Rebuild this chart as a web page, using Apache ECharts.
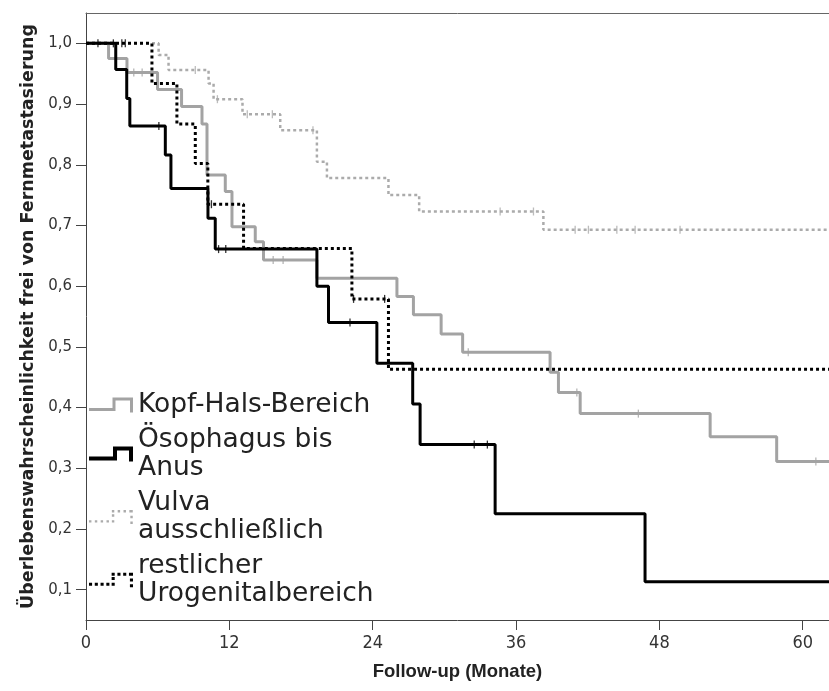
<!DOCTYPE html>
<html><head><meta charset="utf-8">
<script src="https://cdn.jsdelivr.net/npm/echarts@6/dist/echarts.min.js"></script>
<style>html,body{margin:0;padding:0;background:#fff}#c{width:829px;height:691px}</style>
</head><body><div id="c"></div>
<script>
// ---- data ----
const xTicks = [0, 12, 24, 36, 48, 60];
const yTicks = [0.1, 0.2, 0.3, 0.4, 0.5, 0.6, 0.7, 0.8, 0.9, 1.0];
const seriesNames = ['Kopf-Hals-Bereich', 'Ösophagus bis Anus', 'Vulva ausschließlich', 'restlicher Urogenitalbereich'];
const legendLabels = ['Kopf-Hals-Bereich', 'Ösophagus bis\nAnus', 'Vulva\nausschließlich', 'restlicher\nUrogenitalbereich'];

const khTime = [0, 1.89, 3.43, 5.99, 8.0, 9.71, 10.13, 11.66, 12.22, 14.17, 14.86, 19.33, 26.03, 27.41, 29.73, 31.53, 38.85, 39.55, 41.37, 52.25, 57.82, 62.2];
const khSurv = [1, 0.975, 0.952, 0.924, 0.896, 0.867, 0.783, 0.756, 0.698, 0.673, 0.643, 0.613, 0.583, 0.553, 0.521, 0.491, 0.458, 0.425, 0.390, 0.352, 0.311, 0.311];
const khCens = [4.0, 4.7, 15.67, 16.5, 32.0, 41.09, 46.24, 61.1];

const oeTime = [0, 2.49, 3.41, 3.67, 6.64, 7.11, 10.21, 10.82, 19.33, 20.30, 24.35, 27.35, 27.97, 34.25, 46.8, 62.2];
const oeSurv = [1, 0.957, 0.909, 0.864, 0.816, 0.761, 0.712, 0.661, 0.600, 0.540, 0.473, 0.406, 0.339, 0.225, 0.113, 0.113];
const oeCens = [1.0, 6.1, 11.1, 11.7, 22.1, 32.5, 33.6];

const vuTime = [0, 6.08, 6.91, 10.26, 10.68, 13.1, 16.26, 19.33, 20.17, 25.32, 27.89, 38.29, 62.2];
const vuSurv = [1, 0.981, 0.956, 0.934, 0.908, 0.883, 0.857, 0.805, 0.778, 0.750, 0.723, 0.693, 0.693];
const vuCens = [9.15, 11.0, 13.5, 15.6, 19.0, 34.67, 37.46, 40.95, 42.06, 44.44, 45.97, 49.73];

const ugTime = [0, 5.52, 7.61, 9.15, 10.2, 13.19, 22.26, 25.32, 62.2];
const ugSurv = [1, 0.934, 0.867, 0.802, 0.735, 0.662, 0.579, 0.463, 0.463];
const ugCens = [2.29, 3.0, 3.29, 10.5, 22.4, 25.0];

// ---- helpers ----
function zip(t, s) { return t.map((v, i) => [v, s[i]]); }
function stepAt(t, s, x) { let v = s[0]; for (let i = 0; i < t.length; i++) { if (t[i] <= x) v = s[i]; } return v; }
function cens(t, s, c) { return c.map(x => [x, stepAt(t, s, x)]); }

// legend icons (style only)
function solidIcon(th) {
  const W = 44, H = 15;
  return 'path://M0,' + (12 - th / 2) + ' L' + (22 + th / 2) + ',' + (12 - th / 2) + ' L' + (22 + th / 2) + ',0 L' + W + ',0 L' + W + ',' + H +
    ' L' + (W - th) + ',' + H + ' L' + (W - th) + ',' + th + ' L' + (22 + th * 1.5) + ',' + th + ' L' + (22 + th * 1.5) + ',' + (12 + th / 2) + ' L0,' + (12 + th / 2) + ' Z';
}
function dottedIcon(s) {
  const pts = [[0, 12], [23.5, 12], [23.5, 1.5], [42.5, 1.5], [42.5, 15]];
  let p = 'path://';
  const pitch = 6;
  for (let k = 0; k < pts.length - 1; k++) {
    const [x0, y0] = pts[k], [x1, y1] = pts[k + 1];
    const len = Math.hypot(x1 - x0, y1 - y0);
    for (let d = 0; d < len; d += pitch) {
      const x = x0 + (x1 - x0) * d / len, y = y0 + (y1 - y0) * d / len;
      p += 'M' + (x - s / 2) + ',' + (y - s / 2) + ' L' + (x + s / 2) + ',' + (y - s / 2) + ' L' + (x + s / 2) + ',' + (y + s / 2) + ' L' + (x - s / 2) + ',' + (y + s / 2) + ' Z ';
    }
  }
  p += 'M0,0 L0.01,0 Z M44,15 L43.99,15 Z';
  return p;
}

const colKH = '#a3a3a3', colOE = '#000000', colVU = '#ababab', colUG = '#000000';

function lineSeries(name, t, s, color, width, type, z) {
  return { name: name, type: 'line', step: 'end', data: zip(t, s), symbol: 'none', z: z,
    lineStyle: { color: color, width: width, type: type, cap: 'butt' }, itemStyle: { color: color },
    emphasis: { disabled: true }, animation: false, clip: true };
}
function censSeries(name, t, s, c, color, z) {
  return { name: name, type: 'scatter', data: cens(t, s, c), symbol: 'rect', symbolSize: [1.3, 8], z: z,
    itemStyle: { color: color }, emphasis: { disabled: true }, animation: false, silent: true };
}

const chart = echarts.init(document.getElementById('c'), null, { renderer: 'canvas' });
chart.setOption({
  backgroundColor: '#ffffff',
  animation: false,
  grid: { left: 86, right: 0, top: 13, bottom: 71, containLabel: false },
  xAxis: [{
    type: 'value', min: 0, max: 62.2,
    name: 'Follow-up (Monate)', nameLocation: 'middle', nameGap: 42,
    nameTextStyle: { fontFamily: 'Liberation Sans', fontWeight: 'bold', fontSize: 18.5, color: '#222' },
    axisLine: { show: true, onZero: false, lineStyle: { color: '#444', width: 1 } },
    axisTick: { show: true, length: 10, customValues: xTicks, lineStyle: { color: '#444' } },
    axisLabel: { customValues: xTicks, margin: 14, fontFamily: 'Liberation Sans Narrow, DejaVu Sans Condensed, sans-serif', fontSize: 18, color: '#333' },
    splitLine: { show: false }
  }, {
    type: 'value', min: 0, max: 62.2, position: 'top',
    axisLine: { show: true, onZero: false, lineStyle: { color: '#666', width: 1 } },
    axisTick: { show: false }, axisLabel: { show: false }, splitLine: { show: false }
  }],
  yAxis: {
    type: 'value', min: 0.05, max: 1.05,
    name: 'Überlebenswahrscheinlichkeit frei von Fernmetastasierung', nameLocation: 'middle', nameGap: 41,
    nameTextStyle: { fontFamily: 'DejaVu Sans', fontWeight: 'bold', fontSize: 17.5, color: '#222' },
    axisLine: { show: true, onZero: false, lineStyle: { color: '#444', width: 1 } },
    axisTick: { show: true, length: 10, customValues: yTicks, lineStyle: { color: '#444' } },
    axisLabel: { customValues: yTicks, margin: 14, fontFamily: 'DejaVu Sans', fontSize: 15, color: '#333',
      formatter: v => v.toFixed(1).replace('.', ',') },
    splitLine: { show: false }
  },
  legend: {
    orient: 'vertical', left: 89, top: 391, padding: 0, itemGap: 7, itemWidth: 44, itemHeight: 15,
    selectedMode: false,
    textStyle: { fontFamily: 'DejaVu Sans', fontSize: 26.5, lineHeight: 28, color: '#222' },
    formatter: n => legendLabels[seriesNames.indexOf(n)],
    data: [
      { name: seriesNames[0], icon: solidIcon(3), itemStyle: { color: colKH, borderWidth: 0 } },
      { name: seriesNames[1], icon: solidIcon(4), itemStyle: { color: colOE, borderWidth: 0 } },
      { name: seriesNames[2], icon: dottedIcon(2.5), itemStyle: { color: colVU, borderWidth: 0 } },
      { name: seriesNames[3], icon: dottedIcon(3.2), itemStyle: { color: colUG, borderWidth: 0 } }
    ]
  },
  series: [
    lineSeries(seriesNames[2], vuTime, vuSurv, colVU, 2.5, [3, 3], 2),
    lineSeries(seriesNames[0], khTime, khSurv, colKH, 3, 'solid', 3),
    lineSeries(seriesNames[1], oeTime, oeSurv, colOE, 3, 'solid', 4),
    lineSeries(seriesNames[3], ugTime, ugSurv, colUG, 3, [3, 3], 5),
    censSeries('c_vu', vuTime, vuSurv, vuCens, colVU, 6),
    censSeries('c_kh', khTime, khSurv, khCens, colKH, 6),
    censSeries('c_oe', oeTime, oeSurv, oeCens, colOE, 7),
    censSeries('c_ug', ugTime, ugSurv, ugCens, colUG, 7)
  ]
});
</script></body></html>
